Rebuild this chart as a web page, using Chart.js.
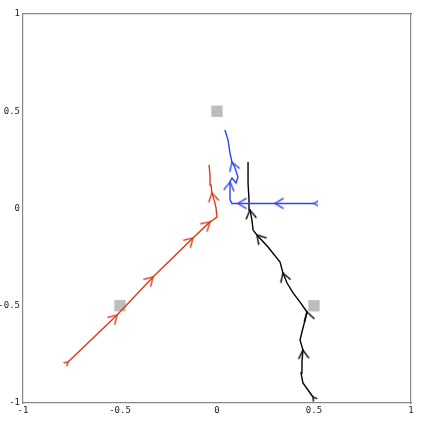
<!DOCTYPE html>
<html>
<head>
<meta charset="utf-8">
<script src="https://cdn.jsdelivr.net/npm/chart.js@4/dist/chart.umd.min.js"></script>
<style>
  body { margin: 0; background: #fff; }
  #wrap { width: 423px; height: 423px; }
</style>
</head>
<body>
<div id="wrap"><canvas id="myChart" width="423" height="423"></canvas></div>
<script>
// trajectories (x, y) and where the arrowheads sit
const redX = [-0.768, -0.515, -0.330, -0.124, -0.036, -0.021, 0.0, -0.005, -0.015, -0.026, -0.031, -0.036, -0.041];
const redY = [-0.789, -0.548, -0.352, -0.152, -0.069, -0.059, -0.044, 0.003, 0.044, 0.080, 0.121, 0.172, 0.224];
const redArrows = [1, 2, 3, 4, 9];

const blueX = [0.5, 0.299, 0.108, 0.077, 0.067, 0.067, 0.067, 0.077, 0.098, 0.108, 0.093, 0.077, 0.067, 0.057, 0.041];
const blueY = [0.026, 0.026, 0.026, 0.026, 0.044, 0.080, 0.136, 0.157, 0.131, 0.162, 0.208, 0.239, 0.285, 0.352, 0.404];
const blueArrows = [1, 2, 6, 11];

const blackX = [0.495, 0.469, 0.443, 0.433, 0.438, 0.443, 0.428, 0.438, 0.454, 0.464, 0.428, 0.392, 0.361, 0.340, 0.325, 0.263, 0.206, 0.186, 0.180, 0.170, 0.165, 0.160, 0.160];
const blackY = [-0.969, -0.933, -0.897, -0.846, -0.789, -0.728, -0.676, -0.635, -0.573, -0.532, -0.481, -0.434, -0.383, -0.332, -0.275, -0.198, -0.136, -0.111, -0.059, -0.008, 0.044, 0.131, 0.239];
const blackArrows = [5, 9, 13, 16, 19];

// grey target squares
const targetX = [0, -0.5, 0.5];
const targetY = [0.5, -0.5, -0.5];

const tickValues = [-1, -0.5, 0, 0.5, 1];

function chevron(color, size) {
  const c = document.createElement('canvas');
  c.width = size * 2;
  c.height = size * 2;
  const g = c.getContext('2d');
  g.strokeStyle = color;
  g.lineWidth = 1.4;
  g.lineCap = 'round';
  g.beginPath();
  g.moveTo(size - size * 0.9, size - size * 0.55);
  g.lineTo(size, size);
  g.lineTo(size - size * 0.9, size + size * 0.55);
  g.stroke();
  return c;
}

function toPoints(xs, ys) {
  return xs.map((x, i) => ({ x, y: ys[i] }));
}

function trajectory(xs, ys, arrows, color) {
  const big = chevron(color, 9);
  const small = chevron(color, 4);
  const data = toPoints(xs, ys);
  return {
    data,
    borderColor: color,
    borderWidth: 1.4,
    showLine: true,
    tension: 0,
    order: 1,
    pointStyle: ctx => (ctx.dataIndex === 0 ? small : big),
    pointRadius: ctx => (ctx.dataIndex === 0 || arrows.includes(ctx.dataIndex) ? 4 : 0),
    rotation: ctx => {
      const i = ctx.dataIndex;
      const a = data[Math.max(i - 1, 0)];
      const b = data[Math.min(i + 1, data.length - 1)];
      return -Math.atan2(b.y - a.y, b.x - a.x) * 180 / Math.PI;
    }
  };
}

const tickFont = { family: 'DejaVu Sans Mono', size: 9 };

new Chart(document.getElementById('myChart'), {
  type: 'scatter',
  data: {
    datasets: [
      trajectory(redX, redY, redArrows, '#d83a17'),
      trajectory(blueX, blueY, blueArrows, '#2f44f0'),
      trajectory(blackX, blackY, blackArrows, '#000000'),
      {
        data: toPoints(targetX, targetY),
        pointStyle: 'rect',
        pointRadius: 8,
        backgroundColor: '#bdbdbd',
        borderWidth: 0,
        order: 5
      }
    ]
  },
  options: {
    responsive: false,
    animation: false,
    events: [],
    layout: { padding: { top: 14, right: 12, left: 0, bottom: 0 } },
    plugins: { legend: { display: false }, tooltip: { enabled: false } },
    scales: {
      x: {
        type: 'linear', min: -1, max: 1,
        afterBuildTicks: s => { s.ticks = tickValues.map(v => ({ value: v })); },
        afterFit: s => { s.height = 20; },
        grid: { display: false, drawTicks: false },
        border: { color: '#888', width: 1.2 },
        ticks: { font: tickFont, color: '#222', padding: 2, maxRotation: 0, callback: v => String(v) }
      },
      y: {
        type: 'linear', min: -1, max: 1,
        afterBuildTicks: s => { s.ticks = tickValues.map(v => ({ value: v })); },
        afterFit: s => { s.width = 23; },
        grid: { display: false, drawTicks: false },
        border: { color: '#888', width: 1.2 },
        ticks: { font: tickFont, color: '#222', padding: 3, callback: v => String(v) }
      },
      x2: {
        type: 'linear', position: 'top', min: -1, max: 1,
        afterFit: s => { s.height = 0; },
        grid: { display: false, drawTicks: false },
        border: { color: '#888', width: 1.2 },
        ticks: { display: false }
      },
      y2: {
        type: 'linear', position: 'right', min: -1, max: 1,
        afterFit: s => { s.width = 0; },
        grid: { display: false, drawTicks: false },
        border: { color: '#888', width: 1.2 },
        ticks: { display: false }
      }
    }
  }
});
</script>
</body>
</html>
